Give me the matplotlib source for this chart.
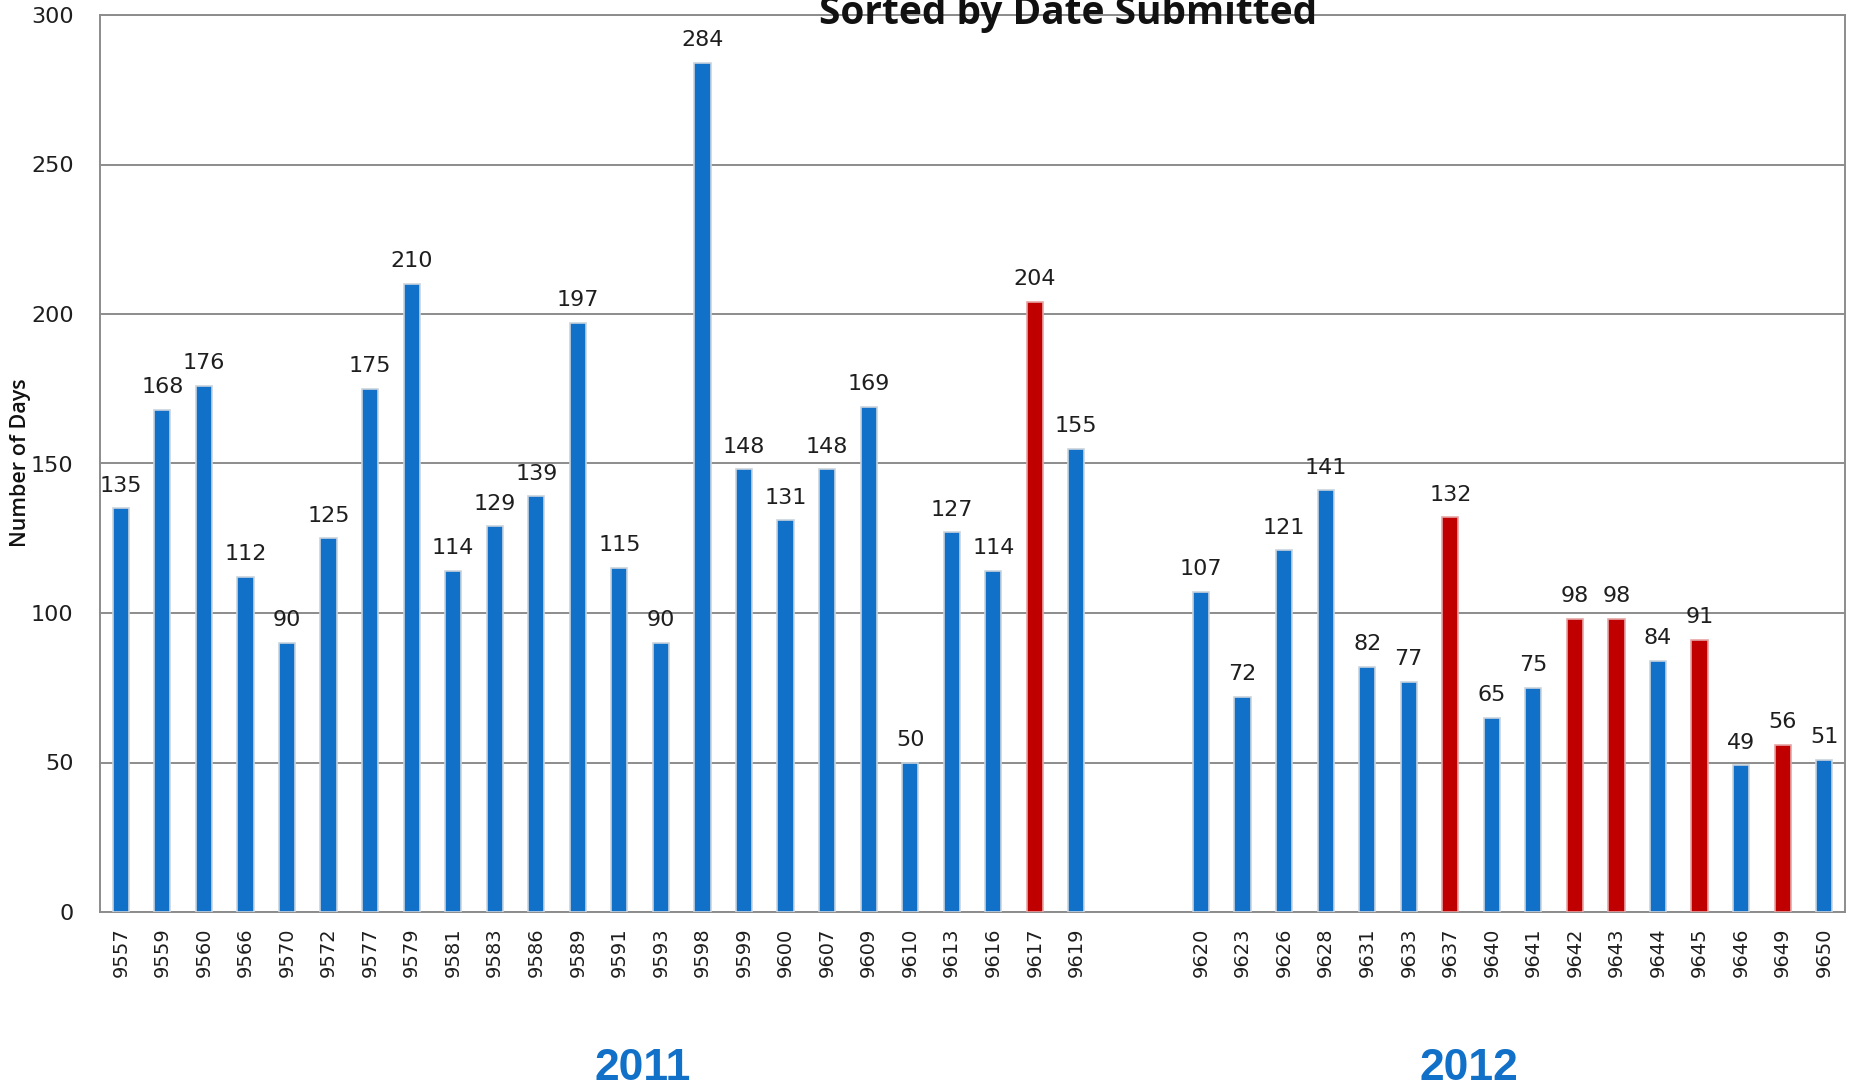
import numpy as np
import matplotlib
matplotlib.use("Agg")
import matplotlib.pyplot as plt

# ---- data ----
ids_2011 = ["9557", "9559", "9560", "9566", "9570", "9572", "9577", "9579", "9581", "9583",
            "9586", "9589", "9591", "9593", "9598", "9599", "9600", "9607", "9609", "9610",
            "9613", "9616", "9617", "9619"]
days_2011 = [135, 168, 176, 112, 90, 125, 175, 210, 114, 129,
             139, 197, 115, 90, 284, 148, 131, 148, 169, 50,
             127, 114, 204, 155]
ids_2012 = ["9620", "9623", "9626", "9628", "9631", "9633", "9637", "9640", "9641", "9642",
            "9643", "9644", "9645", "9646", "9649", "9650"]
days_2012 = [107, 72, 121, 141, 82, 77, 132, 65, 75, 98,
             98, 84, 91, 49, 56, 51]
highlighted = ["9617", "9637", "9642", "9643", "9645", "9649"]
year_labels = ["2011", "2012"]
y_ticks = [0, 50, 100, 150, 200, 250, 300]
title = "Sorted by Date Submitted"
ylabel = "Number of Days"

# ---- style ----
BLUE = "#1170C8"
RED = "#C00000"
GRID = "#8C8C8C"
TXT = "#1E1E1E"
GAP = 2  # empty slots between years
YEAR_X = [643 / 1850, 1469 / 1850]  # figure-fraction centres of the year captions

fig = plt.figure(figsize=(18.5, 10.87), dpi=100)
ax = fig.add_axes([100 / 1850, 1 - 912 / 1087, 1745 / 1850, (912 - 15) / 1087])

x11 = np.arange(len(ids_2011))
x12 = np.arange(len(ids_2012)) + len(ids_2011) + GAP
xs = np.concatenate([x11, x12])
ids = ids_2011 + ids_2012
vals = days_2011 + days_2012
colors = [RED if i in highlighted else BLUE for i in ids]
edges = ["#E6A6A6" if i in highlighted else "#C9D3DD" for i in ids]

ax.bar(xs, vals, width=0.39, color=colors, edgecolor=edges, linewidth=1.2, zorder=3)

for x, v in zip(xs, vals):
    ax.annotate(str(v), (x, v), xytext=(0, 12), textcoords="offset points",
                ha="center", va="baseline", fontsize=16, color=TXT,
                family="DejaVu Sans", zorder=4)

ax.set_xlim(-0.5, xs[-1] + 0.5)
ax.set_ylim(0, 300)
ax.set_yticks(y_ticks)
ax.set_yticklabels([str(t) for t in y_ticks], fontsize=16, color=TXT)
ax.set_xticks(xs)
ax.set_xticklabels(ids, rotation=90, fontsize=14, color=TXT)
ax.tick_params(axis="y", length=0, pad=19)
ax.tick_params(axis="x", length=0, pad=11)
for lbl in ax.get_xticklabels():
    lbl.set_va("top")

ax.yaxis.grid(True, color=GRID, linewidth=1.4, zorder=0)
ax.set_axisbelow(True)
for s in ax.spines.values():
    s.set_color(GRID)
    s.set_linewidth(1.4)

# y label
fig.text(21 / 1850, 1 - 463 / 1087, ylabel, rotation=90, ha="center", va="center",
         fontsize=15.5, fontweight="semibold", family="Open Sans", color="#111111")

# title (partially clipped at top, as in reference)
fig.text(1068 / 1850, 1 - 24 / 1087, title, ha="center", va="baseline",
         fontsize=28, fontweight="bold", family="Open Sans", color="#111111")

# year captions
for lab, xf in zip(year_labels, YEAR_X):
    fig.text(xf, 1 - 1080 / 1087, lab, ha="center", va="baseline",
             fontsize=32, fontweight="bold", family="Liberation Sans", color=BLUE)

fig.savefig("out.png", dpi=100)
